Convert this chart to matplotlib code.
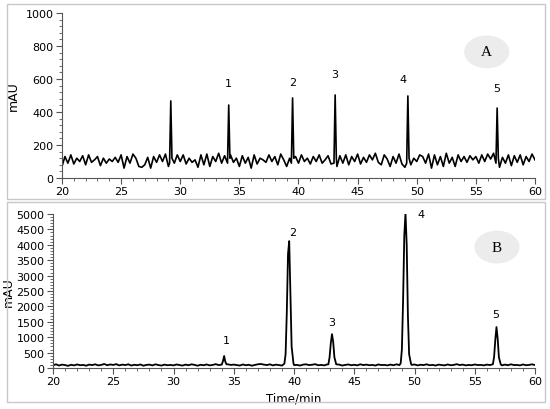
import matplotlib.pyplot as plt
import numpy as np
from matplotlib.patches import Rectangle, Ellipse
from matplotlib.ticker import MultipleLocator

# baseline sampled every 0.25 min from 20 to 60
t_base = np.arange(20, 60.01, 0.25)

base_a = [70, 130, 90, 140, 85, 120, 100, 135, 80, 140, 95, 110, 130, 75, 120, 90, 115, 100, 125, 95,
          140, 60, 130, 90, 145, 120, 70, 65, 80, 125, 60, 130, 95, 140, 100, 145, 70, 150, 90, 140,
          100, 140, 85, 120, 95, 110, 65, 140, 80, 145, 70, 130, 100, 150, 90, 135, 110, 140, 95, 120,
          70, 135, 90, 125, 60, 140, 85, 120, 110, 95, 140, 100, 130, 80, 145, 110, 70, 120, 95, 130,
          90, 140, 100, 120, 85, 130, 100, 140, 90, 110, 135, 85, 125, 70, 135, 90, 140, 80, 130, 100,
          145, 85, 125, 95, 140, 110, 150, 95, 80, 140, 115, 70, 130, 90, 145, 85, 65, 90, 80, 120,
          100, 140, 130, 90, 145, 60, 140, 80, 130, 70, 150, 90, 125, 70, 140, 100, 130, 95, 135, 110,
          130, 90, 140, 100, 145, 115, 150, 80, 65, 125, 90, 140, 75, 135, 95, 140, 80, 130, 100, 145,
          110]

base_b = [90, 120, 80, 110, 95, 70, 105, 85, 115, 90, 100, 75, 110, 95, 120, 85, 100, 130, 90, 115,
          100, 125, 85, 110, 95, 120, 80, 105, 90, 115, 75, 100, 110, 85, 120, 95, 80, 110, 90, 100,
          85, 115, 95, 80, 110, 90, 120, 100, 75, 105, 90, 115, 85, 100, 125, 95, 110, 90, 120, 100,
          110, 95, 80, 115, 90, 105, 75, 100, 120, 130, 110, 95, 120, 85, 110, 95, 80, 105, 90, 115,
          95, 100, 80, 110, 120, 95, 105, 125, 90, 100, 85, 115, 90, 120, 95, 110, 80, 100, 115, 90,
          105, 85, 120, 95, 110, 90, 100, 80, 115, 95, 100, 85, 110, 90, 120, 95, 80, 105, 90, 100,
          115, 85, 105, 95, 120, 90, 100, 80, 110, 95, 85, 115, 90, 100, 125, 95, 110, 85, 100, 90,
          115, 95, 100, 85, 110, 95, 120, 90, 105, 85, 110, 90, 120, 95, 100, 85, 115, 90, 100, 120,
          95]

# panel A: sharp spikes (time, apex height)
spike_a_t = [29.2, 34.1, 39.5, 43.1, 49.25, 56.8]
spike_a_h = [467, 442, 485, 503, 497, 424]

# panel B: peak profiles
peaks_b = [
    ([34.0, 34.1, 34.2, 34.3, 34.4], [110, 220, 390, 200, 120]),
    ([39.2, 39.3, 39.4, 39.5, 39.6, 39.7, 39.8, 39.95], [140, 450, 1800, 3700, 4120, 2400, 700, 160]),
    ([42.85, 42.95, 43.05, 43.15, 43.25, 43.35, 43.5], [120, 350, 800, 1100, 850, 350, 120]),
    ([48.85, 48.95, 49.05, 49.15, 49.25, 49.35, 49.45, 49.55, 49.7], [150, 600, 2200, 4300, 5030, 4000, 1700, 450, 150]),
    ([56.5, 56.6, 56.7, 56.8, 56.9, 57.0, 57.15], [120, 350, 900, 1330, 950, 350, 120]),
]

labels = ['1', '2', '3', '4', '5']
lab_a_t = [34.05, 39.5, 43.1, 48.8, 56.8]
lab_a_y = [545, 550, 600, 570, 515]
lab_b_t = [34.4, 39.9, 43.1, 50.5, 56.75]
lab_b_y = [900, 4400, 1500, 5000, 1750]

fig = plt.figure(figsize=(5.5, 4.1), dpi=100)
plt.rcParams['font.family'] = 'DejaVu Sans'

# panel frames
fig.patches.append(Rectangle((0.0127, 0.512), 0.978, 0.476, transform=fig.transFigure,
                             fill=False, edgecolor='#c8c8c8', lw=1))
fig.patches.append(Rectangle((0.0127, 0.017), 0.978, 0.488, transform=fig.transFigure,
                             fill=False, edgecolor='#c8c8c8', lw=1))

ax1 = fig.add_axes([0.1127, 0.5634, 0.86, 0.4025])
ax2 = fig.add_axes([0.0964, 0.10, 0.8764, 0.3756])

# build trace A
ta = np.array(t_base)
va = np.array(base_a, dtype=float)
for t0 in spike_a_t:
    keep = np.abs(ta - t0) > 0.12
    ta, va = ta[keep], va[keep]
ta = np.concatenate([ta, spike_a_t, np.array(spike_a_t) - 0.1, np.array(spike_a_t) + 0.1])
va = np.concatenate([va, spike_a_h, [90] * len(spike_a_t), [120] * len(spike_a_t)])
order = np.argsort(ta)
ax1.plot(ta[order], va[order], color='black', lw=1.2)

# build trace B
tb = np.array(t_base)
vb = np.array(base_b, dtype=float)
for pt, pv in peaks_b:
    keep = (tb < pt[0]) | (tb > pt[-1])
    tb, vb = tb[keep], vb[keep]
    tb = np.concatenate([tb, pt])
    vb = np.concatenate([vb, pv])
order = np.argsort(tb)
ax2.plot(tb[order], vb[order], color='black', lw=1.3)

for ax, top, step, minor in [(ax1, 1000, 200, 40), (ax2, 5000, 500, 100)]:
    ax.set_xlim(20, 60)
    ax.set_ylim(0, top)
    ax.xaxis.set_major_locator(MultipleLocator(5))
    ax.xaxis.set_minor_locator(MultipleLocator(1))
    ax.yaxis.set_major_locator(MultipleLocator(step))
    ax.yaxis.set_minor_locator(MultipleLocator(minor))
    for s in ['top', 'right']:
        ax.spines[s].set_visible(False)
    for s in ['left', 'bottom']:
        ax.spines[s].set_color('#555555')
        ax.spines[s].set_linewidth(0.8)
    ax.tick_params(which='major', length=4, width=0.8, color='#555555', labelsize=8, pad=2)
    ax.tick_params(which='minor', length=2.5, width=0.6, color='#555555')

ax1.set_ylabel('mAU', fontsize=9, labelpad=4)
ax2.set_ylabel('mAU', fontsize=9, labelpad=1)
ax2.set_xlabel('Time/min', fontsize=8.5, labelpad=4)

for lab, x, y in zip(labels, lab_a_t, lab_a_y):
    ax1.text(x, y, lab, fontsize=8, ha='center', va='bottom')
for lab, x, y in zip(labels, lab_b_t, lab_b_y):
    ax2.text(x, y, lab, fontsize=8, ha='center', va='center')

for cx, cy, name in [(0.885, 0.871, 'A'), (0.9036, 0.395, 'B')]:
    fig.patches.append(Ellipse((cx, cy), 0.082, 0.08, transform=fig.transFigure,
                               facecolor='#ececec', edgecolor='none'))
    fig.text(cx, cy, name, fontsize=11, family='Liberation Serif', ha='center', va='center')

fig.savefig('out.png', dpi=100)
